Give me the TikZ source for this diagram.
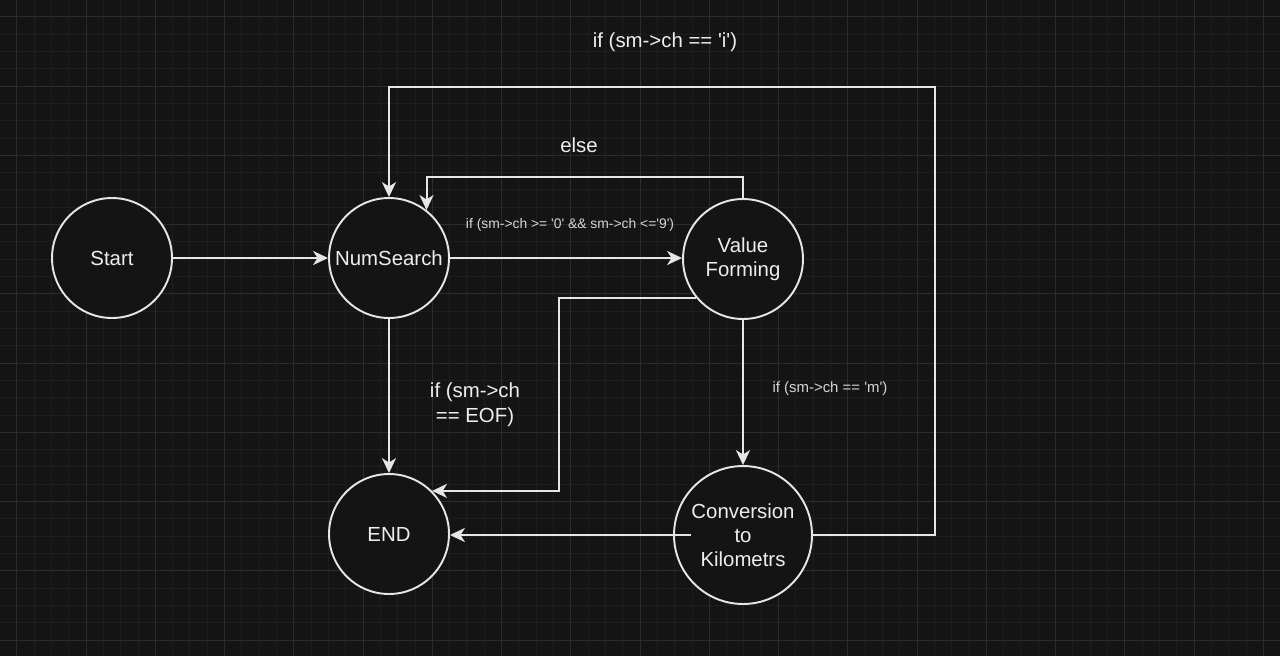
\documentclass[tikz,border=0pt]{standalone}
\usepackage{fontspec}
\setmainfont{Liberation Sans}[Ligatures=TeXOff]
\usepackage{tikz}
\usetikzlibrary{arrows.meta}
\definecolor{bgclr}{HTML}{141414}
\definecolor{minorclr}{HTML}{1E1E1E}
\definecolor{majorclr}{HTML}{2C2C2C}
\definecolor{lineclr}{HTML}{E6E6E6}
\definecolor{txtclr}{HTML}{EEEEEE}
\tikzset{
    state/.style={circle, draw=lineclr, fill=bgclr, line width=1.1pt, minimum size=2.4cm,
        inner sep=0pt, align=center, text=txtclr, font=\fontsize{11.6}{13.6}\selectfont},
    arr/.style={draw=lineclr, line width=1.1pt, -{Stealth[length=8.5pt,width=8pt,inset=2.5pt]}},
    lbl/.style={text=txtclr, align=center, font=\fontsize{11.6}{14}\selectfont},
    smalllbl/.style={text=txtclr!90!black, font=\fontsize{7.9}{9}\selectfont},
}

\begin{document}
\begin{tikzpicture}[x=0.02cm, y=-0.02cm]
\fill[bgclr] (0,0) rectangle (1280,656);
\useasboundingbox (0,0) rectangle (1280,656);
\begin{scope}
\clip (0,0) rectangle (1280,656);
\foreach \k in {0,...,74} \draw[minorclr, line width=0.5pt] ({-0.5625+\k*17.3125},0) -- ++(0,656);
\foreach \k in {0,...,38} \draw[minorclr, line width=0.5pt] (0,{-0.5625+\k*17.3125}) -- ++(1280,0);
\foreach \k in {0,...,18} \draw[majorclr, line width=0.5pt] ({16.75+\k*69.25},0) -- ++(0,656);
\foreach \k in {0,...,9} \draw[majorclr, line width=0.5pt] (0,{16.75+\k*69.25}) -- ++(1280,0);
\end{scope}

\node[state] (start) at (112,258) {Start};
\node[state] (numsearch) at (389,258) {NumSearch};
\node[state] (valform) at (743,259) {Value\\Forming};
\node[state] (endst) at (389,534) {END};
\node[state, minimum size=2.76cm] (convert) at (743,535) {Conversion\\to\\Kilometrs};
\coordinate (iturn) at (935,87);

\draw[arr] (start) -- (numsearch);
\draw[arr] (numsearch.east) -- (numsearch.east -| valform.west);
\draw[arr] (valform.north) -- ++(0,-21) -| (numsearch.52);
\draw[arr] (convert.east) -| (iturn) -| (numsearch.north);
\draw[arr] (numsearch.south) -- (endst.north);
\draw[arr] (valform.220) -- ++(-137,0) |- (endst.north east);
\draw[arr] (valform.south) -- (convert.north);
\draw[arr] ([xshift=0.36cm]convert.west) -- (convert.west -| endst.east);

\node[lbl] (ilbl) at (665,42) {if (sm->ch == 'i')};
\node[lbl] (elselbl) at (579,145) {else};
\node[smalllbl] (digitlbl) at (570,225) {if (sm->ch >= '0' \&\& sm->ch <='9')};
\node[lbl] (eoflbl) at (475,405) {if (sm->ch\\== EOF)};
\node[smalllbl, font=\fontsize{8.5}{10}\selectfont] (mlbl) at (830,389) {if (sm->ch == 'm')};
\end{tikzpicture}
\end{document}
